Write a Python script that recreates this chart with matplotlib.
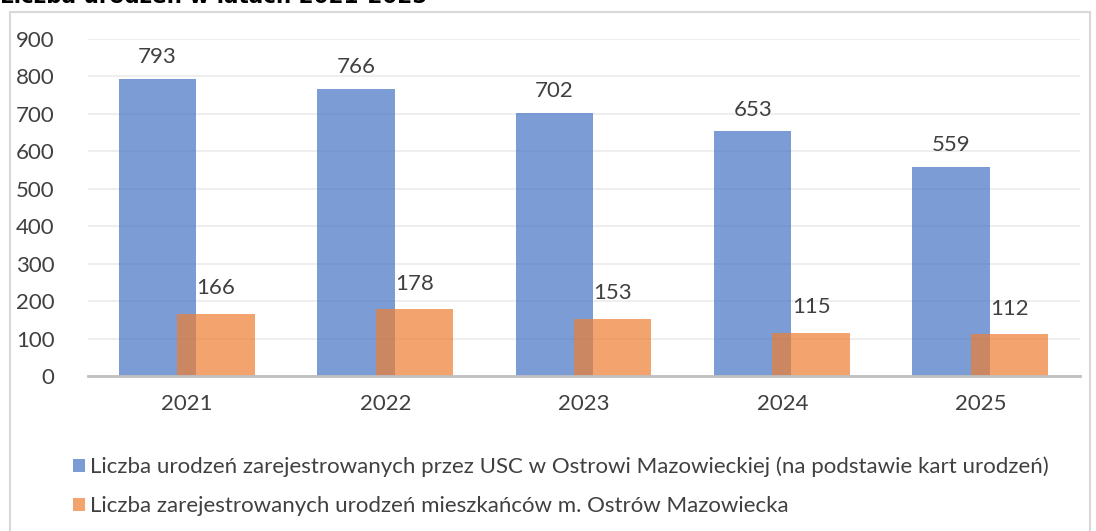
import matplotlib.pyplot as plt
from matplotlib.patches import Rectangle
import numpy as np

years = ["2021", "2022", "2023", "2024", "2025"]
usc_births = [793, 766, 702, 653, 559]
resident_births = [166, 178, 153, 115, 112]
series_names = [
    "Liczba urodzeń zarejestrowanych przez USC w Ostrowi Mazowieckiej (na podstawie kart urodzeń)",
    "Liczba zarejestrowanych urodzeń mieszkańców m. Ostrów Mazowiecka",
]
title = "Liczba urodzeń w latach 2021-2025"

plt.rcParams['font.family'] = ['Lato', 'DejaVu Sans']
text_color = "#404040"

W, H = 1096, 531
fig = plt.figure(figsize=(W / 100, H / 100), dpi=100)

# chart frame (partly cut off at the bottom, like the reference)
fig.patches.append(Rectangle((10 / W, -0.1), 1080 / W, 1 - 12 / H + 0.1,
                             transform=fig.transFigure, fill=False,
                             edgecolor="#D9D9D9", linewidth=1.5, clip_on=False))
# title is cut off by the top edge in the source image
fig.text(0, 1 - 3 / H, title, fontfamily="DejaVu Sans", fontweight="bold",
         fontsize=15.5, color="black", ha="left", va="baseline")

ax = fig.add_axes([88 / W, (H - 376) / H, 992 / W, 337 / H])
x = np.arange(len(years))
bw = 0.39
b1 = ax.bar(x - 0.15, usc_births, bw, color="#4472C4", alpha=0.7, label=series_names[0], zorder=2)
b2 = ax.bar(x + 0.145, resident_births, bw, color="#ED7D31", alpha=0.7, label=series_names[1], zorder=3)

for rect, v in zip(b1, usc_births):
    ax.text(rect.get_x() + rect.get_width() / 2, v + 58, str(v), ha="center", va="center",
            fontsize=16, color=text_color)
for rect, v in zip(b2, resident_births):
    ax.text(rect.get_x() + rect.get_width() / 2, v + 68, str(v), ha="center", va="center",
            fontsize=16, color=text_color)

ax.set_xlim(-0.5, 4.5)
ax.set_ylim(0, 900)
ax.set_yticks(range(0, 901, 100))
ax.set_xticks(x)
ax.set_xticklabels(years)
ax.tick_params(axis="both", length=0, labelsize=16, labelcolor=text_color)
ax.tick_params(axis="x", pad=13)
ax.tick_params(axis="y", pad=24)
ax.grid(axis="y", color="#EBEBEB", linewidth=1.2, zorder=0)
ax.set_axisbelow(True)
for s in ["top", "right", "left"]:
    ax.spines[s].set_visible(False)
ax.spines["bottom"].set_color("#BFBFBF")
ax.spines["bottom"].set_linewidth(2)
ax.spines["bottom"].set_zorder(4)

fig.legend(handles=[b1, b2], labels=series_names, loc="upper left",
           bbox_to_anchor=(64 / W, 1 - 448 / H), frameon=False, fontsize=16,
           labelcolor=text_color, handlelength=0.55, handleheight=0.55,
           handletextpad=0.2, labelspacing=0.85, borderaxespad=0)

fig.savefig("out.png", dpi=100)
